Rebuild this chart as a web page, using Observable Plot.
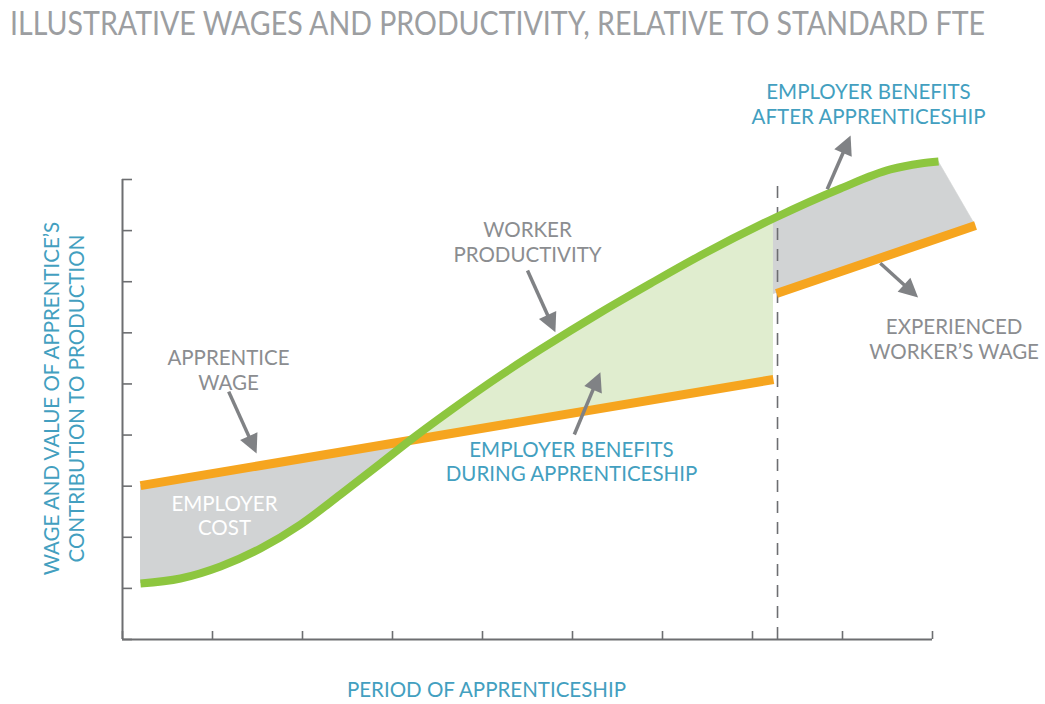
<!DOCTYPE html>
<html><head><meta charset="utf-8">
<script src="https://cdn.jsdelivr.net/npm/d3@7"></script>
<script src="https://cdn.jsdelivr.net/npm/@observablehq/plot@0.6"></script>
<style>
body{margin:0;background:#fff;width:1045px;height:704px;overflow:hidden;}
#title{height:50px;box-sizing:border-box;padding-left:10px;padding-top:3px;font-family:Lato,sans-serif;font-size:32px;color:#9c9ea1;white-space:nowrap;line-height:normal;}
#title span{display:inline-block;transform-origin:0 0;}
</style></head><body>
<div id="title"><span id="t">ILLUSTRATIVE WAGES AND PRODUCTIVITY, RELATIVE TO STANDARD FTE</span></div>
<div id="chart"></div>
<script>
// ---- data ----
const periodTicks = [0,1,2,3,4,5,6,7,8,9];
const levelTicks = [0,1,2,3,4,5,6,7,8,9];
const productivityX = [0.2,0.644,1.089,1.533,1.978,2.422,2.867,3.178,3.644,4.2,4.644,5.311,5.867,6.422,7.233,7.978,8.533,8.867,9.067];
const productivityY = [1.096,1.193,1.428,1.78,2.25,2.837,3.443,3.874,4.48,5.165,5.674,6.398,6.965,7.513,8.237,8.824,9.196,9.313,9.352];
const apprenticeWageX = [0.2,7.233];
const apprenticeWageY = [3.01,5.087];
const experiencedWageX = [7.267,9.478];
const experiencedWageY = [6.77,8.10];
const completionX = 7.278;
const crossingX = 3.178;

const arrowTailX = [1.18,4.50,5.02,7.83,8.42];
const arrowTailY = [4.85,7.22,4.01,8.81,7.36];
const arrowTipX  = [1.49,4.81,5.31,8.09,8.84];
const arrowTipY  = [3.64,6.01,5.23,9.86,6.69];

const grayLabels = ["APPRENTICE\nWAGE","WORKER\nPRODUCTIVITY","EXPERIENCED\nWORKER’S WAGE"];
const grayLabelX = [1.178,4.5,9.24];
const grayLabelY = [5.29,7.78,5.89];
const whiteLabels = ["EMPLOYER\nCOST"];
const whiteLabelX = [1.133];
const whiteLabelY = [2.43];
const tealLabels = ["EMPLOYER BENEFITS\nDURING APPRENTICESHIP","EMPLOYER BENEFITS\nAFTER APPRENTICESHIP"];
const tealLabelX = [4.989,8.289];
const tealLabelY = [3.49,10.49];
const xTitle = "PERIOD OF APPRENTICESHIP";
const yTitle = "WAGE AND VALUE OF APPRENTICE’S\nCONTRIBUTION TO PRODUCTION";

// ---- derived ----
const W = 1045, H = 654, mL = 122, mR = 113, mT = 129, mB = 65;
const kx = (W - mL - mR) / 9, ky = (H - mT - mB) / 9;
const GREEN = "#8dc63f", ORANGE = "#f6a51f", GRAYFILL = "#d1d3d4", LIGHTGREEN = "#e0edcf";
const AXIS = "#6d6e71", ARROW = "#808285", TEAL = "#439fc0", TEXTGRAY = "#8b8d90";
const FS = 20.5;

const prod = productivityX.map((x,i)=>({x, y: productivityY[i]}));
const wage1 = apprenticeWageX.map((x,i)=>({x, y: apprenticeWageY[i]}));
const wage2 = experiencedWageX.map((x,i)=>({x, y: experiencedWageY[i]}));
const lineAt = (xs, ys) => x => ys[0] + (x - xs[0]) * (ys[1]-ys[0])/(xs[1]-xs[0]);
const w1 = lineAt(apprenticeWageX, apprenticeWageY);
const w2 = lineAt(experiencedWageX, experiencedWageY);
const costBand = prod.filter(d => d.x <= crossingX).map(d => ({x:d.x, g:d.y, o:w1(d.x)}));
const benefitBand = prod.filter(d => d.x >= crossingX && d.x <= apprenticeWageX[1]).map(d => ({x:d.x, g:d.y, o:w1(d.x)}));
const afterBand = prod.filter(d => d.x >= apprenticeWageX[1]).map(d => ({x:d.x, g:d.y, o:w2(d.x)}));
const last = prod[prod.length-1];
const afterTri = [{x:last.x, g:last.y, o:w2(last.x)}, {x:experiencedWageX[1], g:experiencedWageY[1], o:experiencedWageY[1]}];

const HEAD = 19;
const arrows = arrowTailX.map((x1,i)=>{
  const dxp = (arrowTipX[i]-x1)*kx, dyp = -(arrowTipY[i]-arrowTailY[i])*ky;
  const len = Math.hypot(dxp, dyp);
  const f = 1 - (HEAD-3)/len;
  return {x1, y1: arrowTailY[i], x2: arrowTipX[i], y2: arrowTipY[i],
    sx: x1 + (arrowTipX[i]-x1)*f, sy: arrowTailY[i] + (arrowTipY[i]-arrowTailY[i])*f,
    rot: Math.atan2(dxp, -dyp)*180/Math.PI};
});

const txt = (t, xs, ys) => t.map((text,i)=>({text, x: xs[i], y: ys[i]}));

const plot = Plot.plot({
  width: W, height: H, marginLeft: mL, marginRight: mR, marginTop: mT, marginBottom: mB,
  x: {domain: [0,9]}, y: {domain: [0,9]},
  style: {fontFamily: "Lato, sans-serif", overflow: "visible", background: "#fff"},
  marks: [
    Plot.areaY(costBand, {x:"x", y1:"o", y2:"g", fill: GRAYFILL, curve: "monotone-x"}),
    Plot.areaY(benefitBand, {x:"x", y1:"o", y2:"g", fill: LIGHTGREEN, curve: "monotone-x"}),
    Plot.areaY(afterBand, {x:"x", y1:"o", y2:"g", fill: GRAYFILL, curve: "monotone-x"}),
    Plot.areaY(afterTri, {x:"x", y1:"o", y2:"g", fill: GRAYFILL, stroke: GRAYFILL, strokeWidth: 0.6, curve: "linear"}),
    Plot.ruleX([completionX], {y1: 0, y2: 9, stroke: AXIS, strokeWidth: 1.6, strokeDasharray: "12,9"}),
    Plot.ruleY([0], {x1: 0, x2: 9, stroke: AXIS, strokeWidth: 2}),
    Plot.ruleX([0], {y1: 0, y2: 9, stroke: AXIS, strokeWidth: 2}),
    Plot.axisX(periodTicks, {tickSize: -8, tickFormat: () => "", label: null, stroke: AXIS, strokeWidth: 1.6}),
    Plot.axisY(levelTicks, {tickSize: -10, tickFormat: () => "", label: null, stroke: AXIS, strokeWidth: 1.6}),
    Plot.line(wage1, {x:"x", y:"y", stroke: ORANGE, strokeWidth: 9, strokeLinecap: "butt"}),
    Plot.line(wage2, {x:"x", y:"y", stroke: ORANGE, strokeWidth: 9, strokeLinecap: "butt"}),
    Plot.line(prod, {x:"x", y:"y", stroke: GREEN, strokeWidth: 8, strokeLinecap: "butt", curve: "monotone-x"}),
    Plot.link(arrows, {x1:"x1", y1:"y1", x2:"sx", y2:"sy", stroke: ARROW, strokeWidth: 3.5, strokeLinecap: "butt"}),
    Plot.vector(arrows, {x:"x2", y:"y2", rotate:"rot", length: HEAD, r: 9.5, shape: "spike", anchor: "end", fill: ARROW, stroke: "none"}),
    Plot.text(txt(grayLabels, grayLabelX, grayLabelY), {x:"x", y:"y", text:"text", fill: TEXTGRAY, fontSize: FS, lineHeight: 1.22}),
    Plot.text(txt(whiteLabels, whiteLabelX, whiteLabelY), {x:"x", y:"y", text:"text", fill: "#ffffff", fontSize: FS, lineHeight: 1.2}),
    Plot.text(txt(tealLabels, tealLabelX, tealLabelY), {x:"x", y:"y", text:"text", fill: TEAL, fontSize: FS, lineHeight: 1.2}),
    Plot.text([xTitle], {x: 4.044, y: -1.0, text: d => d, fill: TEAL, fontSize: FS}),
    Plot.text([yTitle], {x: -0.656, y: 4.715, text: d => d, fill: TEAL, fontSize: FS, rotate: -90, lineHeight: 1.2})
  ]
});
document.getElementById("chart").appendChild(plot);

const t = document.getElementById("t");
const w = t.getBoundingClientRect().width;
t.style.transform = `scaleX(${975 / w})`;
</script>
</body></html>
